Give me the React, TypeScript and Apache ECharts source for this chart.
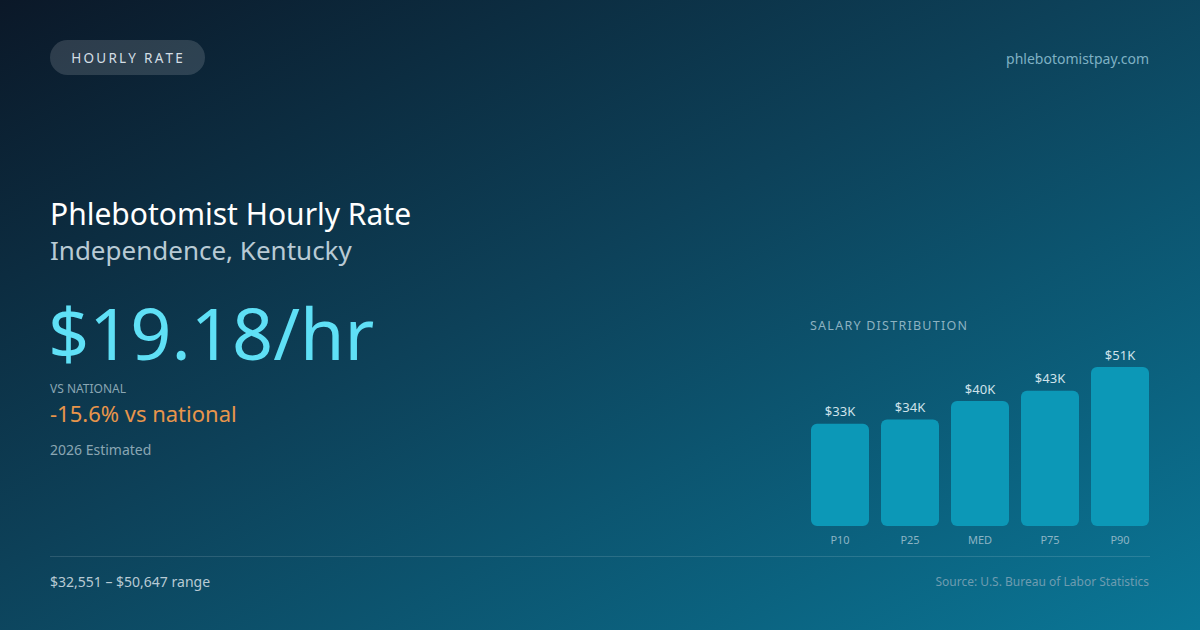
import * as React from "react";
import * as echarts from "echarts";

const percentiles = ["P10", "P25", "MED", "P75", "P90"];
const salaries = [32551, 33900, 39800, 43100, 50647];
const barLabels = ["$33K", "$34K", "$40K", "$43K", "$51K"];

const FONT = "'Noto Sans', 'Open Sans', sans-serif";

// zrender text has no letter-spacing, so spread letters with thin spaces
const spaced = (s: string, gap: string) => s.split("").join(gap);

export default function App() {
  const chartRef = React.useRef<HTMLDivElement | null>(null);

  React.useEffect(() => {
    if (!chartRef.current) return;
    const chart = echarts.init(chartRef.current, null, { renderer: "svg" });

    chart.setOption({
      animation: false,
      backgroundColor: {
        type: "linear",
        x: 0,
        y: 0,
        x2: 1,
        y2: 1,
        colorStops: [
          { offset: 0, color: "#0b1828" },
          { offset: 0.45, color: "#0d4159" },
          { offset: 1, color: "#0a7797" },
        ],
      },
      textStyle: { fontFamily: FONT },
      grid: { left: 805, right: 45, top: 367, bottom: 104 },
      xAxis: {
        type: "category",
        data: percentiles,
        axisLine: { show: false },
        axisTick: { show: false },
        axisLabel: { color: "#8cb4c4", fontSize: 11, margin: 8, fontFamily: FONT },
      },
      yAxis: {
        type: "value",
        min: 0,
        max: "dataMax",
        show: false,
        splitLine: { show: false },
      },
      series: [
        {
          type: "bar",
          barWidth: 58,
          data: salaries,
          itemStyle: { color: "#0c98b7", borderRadius: 6 },
          label: {
            show: true,
            position: "top",
            distance: 6,
            color: "#cfe2ea",
            fontSize: 13,
            fontFamily: FONT,
            formatter: (p: { dataIndex: number }) => barLabels[p.dataIndex],
          },
        },
      ],
      graphic: [
        {
          type: "rect",
          shape: { x: 50, y: 40, width: 155, height: 35, r: 17.5 },
          style: { fill: "rgba(255,255,255,0.14)" },
        },
        {
          type: "text",
          x: 127,
          y: 58,
          style: {
            text: spaced("HOURLY RATE", "\u2009"),
            fill: "#d3dee5",
            font: `13.5px ${FONT}`,
            align: "center",
            verticalAlign: "middle",
          },
        },
        {
          type: "text",
          x: 1149,
          y: 58,
          style: {
            text: "phlebotomistpay.com",
            fill: "#7fb1c4",
            font: `14px ${FONT}`,
            align: "right",
            verticalAlign: "middle",
          },
        },
        {
          type: "text",
          x: 50,
          y: 213,
          style: {
            text: "Phlebotomist Hourly Rate",
            fill: "#ffffff",
            font: `30px ${FONT}`,
            verticalAlign: "middle",
          },
        },
        {
          type: "text",
          x: 50,
          y: 250,
          style: {
            text: "Independence, Kentucky",
            fill: "#b8cad4",
            font: `26px ${FONT}`,
            verticalAlign: "middle",
          },
        },
        {
          type: "text",
          x: 48,
          y: 332,
          style: {
            text: "$19.18/hr",
            fill: "#5fe0f6",
            font: `72px ${FONT}`,
            verticalAlign: "middle",
          },
        },
        {
          type: "text",
          x: 50,
          y: 388,
          style: {
            text: "VS NATIONAL",
            fill: "#8aa6b3",
            font: `12px ${FONT}`,
            verticalAlign: "middle",
          },
        },
        {
          type: "text",
          x: 50,
          y: 413,
          style: {
            text: "-15.6% vs national",
            fill: "#e8954b",
            font: `22px ${FONT}`,
            verticalAlign: "middle",
          },
        },
        {
          type: "text",
          x: 50,
          y: 449,
          style: {
            text: "2026 Estimated",
            fill: "#8aa6b3",
            font: `14px ${FONT}`,
            verticalAlign: "middle",
          },
        },
        {
          type: "text",
          x: 810,
          y: 325,
          style: {
            text: spaced("SALARY DISTRIBUTION", "\u200A"),
            fill: "#8db2c1",
            font: `12.5px ${FONT}`,
            verticalAlign: "middle",
          },
        },
        {
          type: "line",
          shape: { x1: 50, y1: 556.5, x2: 1150, y2: 556.5 },
          style: { stroke: "rgba(255,255,255,0.13)", lineWidth: 1 },
        },
        {
          type: "text",
          x: 50,
          y: 581,
          style: {
            text: "$32,551 – $50,647 range",
            fill: "#b8cad4",
            font: `14px ${FONT}`,
            verticalAlign: "middle",
          },
        },
        {
          type: "text",
          x: 1149,
          y: 581,
          style: {
            text: "Source: U.S. Bureau of Labor Statistics",
            fill: "#6e9cb0",
            font: `12px ${FONT}`,
            align: "right",
            verticalAlign: "middle",
          },
        },
      ],
    });

    return () => {
      chart.dispose();
    };
  }, []);

  return (
    <div
      ref={chartRef}
      style={{ position: "absolute", left: 0, top: 0, width: 1200, height: 630 }}
    />
  );
}
